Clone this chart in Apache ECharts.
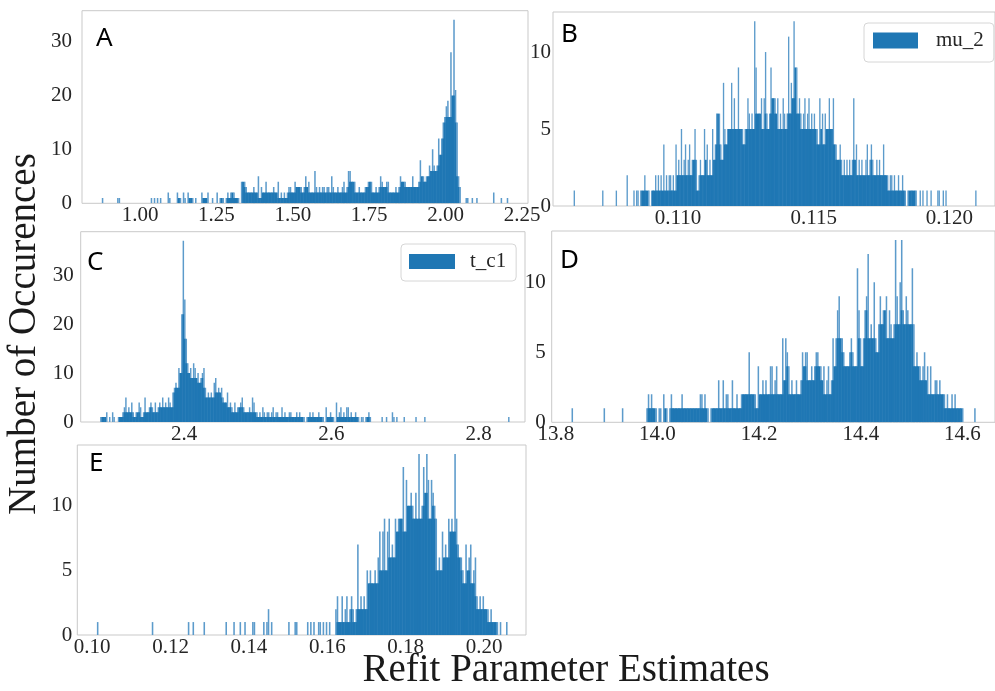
<!DOCTYPE html>
<html><head><meta charset="utf-8">
<script src="https://cdn.jsdelivr.net/npm/echarts@6/dist/echarts.min.js"></script>
<style>html,body{margin:0;padding:0;background:#fff}#c{width:995px;height:691px}</style>
</head><body><div id="c"></div>
<script>
// ---------------- data (histogram counts) ----------------
// Panel A
const binStartA = 0.875, binWidthA = 0.005;
const countsA = [
1,0,0,0,0,0,0,0,0,0,
1,1,0,0,0,0,0,0,0,0,
0,0,0,0,0,0,0,0,0,0,
0,0,1,0,1,0,1,0,1,0,
0,0,0,2,1,0,0,0,0,2,
1,1,0,2,1,0,2,1,1,1,
0,1,0,0,0,2,1,1,1,2,
0,0,1,0,0,2,0,1,1,1,
0,1,2,1,2,2,2,1,1,1,
0,4,4,4,3,2,2,2,2,3,
2,2,5,1,3,2,2,4,2,2,
2,2,3,2,2,4,1,2,1,2,
1,2,3,3,2,2,4,3,3,3,
3,2,3,5,3,4,2,2,2,6,
3,2,3,2,3,3,2,3,3,2,
5,3,2,2,3,2,2,3,4,2,
3,6,6,4,4,4,2,2,3,2,
2,2,3,3,4,4,4,2,2,3,
2,3,5,4,3,3,4,4,2,2,
2,2,3,2,3,5,4,4,4,3,
3,3,3,5,3,3,3,4,8,5,
5,4,5,5,7,6,10,7,6,7,
12,9,12,15,16,18,19,16,28,20,
34,21,15,5,3,0,0,0,1,1,
0,0,1,0,0,1,0,0,0,0,
0,0,0,0,0,0,2,0,0,0,
0,1,0,0,0,1,0,0
];
// Panel B
const binStartB = 0.10600, binWidthB = 0.00005;
const countsB = [
0,0,0,1,0,0,0,0,0,0,
0,0,0,0,0,0,0,0,0,0,
0,0,0,0,1,0,0,0,0,0,
0,0,0,0,1,0,0,0,0,0,
0,0,2,0,0,0,0,1,0,1,
1,0,1,1,1,2,1,1,1,0,
1,1,1,2,1,2,1,2,1,4,
1,2,1,2,2,1,2,1,4,2,
3,2,5,2,3,4,2,3,4,2,
3,3,5,3,1,2,3,2,2,5,
3,4,2,3,2,5,3,4,6,6,
6,4,3,8,5,4,5,5,5,8,
5,7,5,5,9,5,5,5,4,5,
5,7,6,5,6,5,12,9,6,6,
6,7,5,7,10,6,5,6,9,7,
7,7,6,7,5,6,5,7,6,5,
6,11,6,8,7,12,9,9,6,7,
6,5,6,7,5,6,7,5,6,5,
6,5,5,4,7,5,6,4,6,5,
5,7,5,5,7,4,4,3,3,4,
3,2,3,2,3,2,3,2,3,7,
3,4,2,3,2,3,2,2,3,4,
2,3,4,3,2,2,3,2,3,2,
2,4,2,2,2,1,2,2,1,2,
1,1,2,1,1,2,1,1,0,1,
1,1,1,1,1,1,0,0,1,0,
1,0,0,1,0,0,1,0,0,0,
0,1,1,0,0,1,0,1,0,0,
0,0,0,0,0,0,0,0,0,0,
0,0,0,0,0,0,0,0,0,1,
0,0,0,0
];
// Panel C
const binStartC = 2.284, binWidthC = 0.002;
const countsC = [
0,1,1,1,1,2,0,1,0,2,
1,0,0,1,1,1,2,3,5,2,
3,2,4,2,1,2,2,4,3,1,
2,5,2,2,3,4,3,2,4,2,
3,4,3,5,3,4,3,5,4,3,
6,7,8,7,11,10,22,37,25,17,
12,10,11,9,12,11,9,10,8,9,
10,11,7,5,6,5,6,5,8,9,
6,7,6,7,5,4,4,6,3,4,
3,2,4,2,3,3,4,5,3,2,
2,2,3,2,5,4,2,2,1,2,
1,3,2,1,2,2,1,2,3,1,
2,2,1,1,3,1,2,1,1,2,
2,1,1,1,2,1,2,1,1,1,
0,1,1,2,1,2,1,1,1,2,
1,1,1,0,3,1,1,2,1,1,
0,4,1,2,3,1,2,1,3,3,
1,2,1,1,2,1,1,0,1,1,
0,1,1,2,1,0,0,0,0,0,
0,0,1,0,0,1,0,0,0,2,
1,0,1,0,0,0,0,1,0,0,
0,0,0,0,0,1,0,0,0,0,
0,1,0,0,0,0,0,0,0,0,
0,0,0,0,0,0,0,0,0,0,
0,0,0,0,0,0,0,0,0,0,
0,0,0,0,0,0,0,0,0,0,
0,0,0,0,0,0,0,0,0,0,
0,0,0,0,0,0,0,0,1,0
];
// Panel D
const binStartD = 13.831, binWidthD = 0.003;
const countsD = [
1,0,0,0,0,0,0,0,0,0,
0,0,0,0,0,0,0,0,0,0,
0,1,0,0,0,0,0,0,0,0,
0,0,0,1,0,0,0,0,0,0,
0,0,0,0,0,0,0,0,0,1,
2,1,2,1,1,1,0,1,1,0,
2,1,1,0,1,2,1,1,1,1,
1,1,2,1,1,1,1,1,1,1,
1,1,1,1,2,2,1,2,1,1,
0,1,1,1,1,1,3,1,1,3,
1,2,2,1,1,3,1,1,2,1,
1,2,2,2,2,2,5,2,2,2,
2,1,4,2,2,3,2,3,2,2,
4,4,2,3,4,2,2,2,6,3,
6,5,4,2,3,2,2,3,2,2,
3,5,4,5,5,3,3,4,3,4,
5,5,4,4,3,4,2,3,4,2,
3,6,4,6,8,9,6,6,5,4,
4,4,5,6,5,4,4,11,8,6,
4,6,8,9,12,6,7,6,10,6,
5,7,9,7,8,8,9,6,8,7,
6,7,13,9,7,10,13,8,7,9,
8,7,7,11,7,4,5,4,4,3,
4,5,3,4,2,4,2,2,3,3,
2,3,2,2,2,1,2,1,1,2,
1,2,1,1,1,1,1,0,0,0,
0,0,0,0,1,0
];
// Panel E
const binStartE = 0.1012, binWidthE = 0.0004;
const countsE = [
1,0,0,0,0,0,0,0,0,0,
0,0,0,0,0,0,0,0,0,0,
0,0,0,0,0,0,0,0,0,0,
0,0,0,0,0,1,0,0,0,0,
0,0,0,0,0,0,0,0,0,0,
0,0,0,0,0,0,0,0,1,0,
0,1,0,0,0,0,0,0,1,0,
0,0,0,0,0,0,0,0,0,0,
0,0,1,0,0,0,0,1,0,0,
0,1,0,0,1,0,0,0,0,1,
1,0,0,0,0,0,1,0,1,2,
0,1,0,0,0,0,0,0,0,0,
0,0,1,0,0,0,1,1,0,0,
0,0,0,0,1,0,1,0,1,0,
0,1,1,0,1,0,1,0,1,0,
0,0,2,3,1,1,3,1,2,3,
1,2,3,2,1,2,7,2,3,2,
3,2,5,4,5,4,4,5,4,6,
8,5,8,9,5,8,9,6,7,6,
9,8,9,9,9,13,8,12,10,10,
11,10,9,11,9,14,9,10,13,11,
14,12,9,12,11,10,9,5,6,5,
8,6,7,6,9,8,9,8,14,9,
7,6,6,5,4,7,5,6,7,4,
5,6,3,2,3,2,3,2,2,2,
1,2,1,1,1,1,0,1,0,0,
0,1
];
// tick labels
const xTicksA = [1.00, 1.25, 1.50, 1.75, 2.00, 2.25];
const xTicksB = [0.110, 0.115, 0.120];
const xTicksC = [2.4, 2.6, 2.8];
const xTicksD = [13.8, 14.0, 14.2, 14.4, 14.6];
const xTicksE = [0.10, 0.12, 0.14, 0.16, 0.18, 0.20];
const yTicksA = [0, 10, 20, 30];
const yTicksB = [0, 5, 10];
const yTicksC = [0, 10, 20, 30];
const yTicksD = [0, 5, 10];
const yTicksE = [0, 5, 10];
const legendNames = ['mu_2', 't_c1'];
const panelLetters = ['A', 'B', 'C', 'D', 'E'];

// ---------------- chart ----------------
// each bar: [left edge, right edge, count, left-neighbour count, right-neighbour count]
function toBars(start, width, counts) {
  const out = [];
  counts.forEach((c, i) => {
    if (c > 0) out.push([start + i * width, start + (i + 1) * width, c, counts[i - 1] || 0, counts[i + 1] || 0]);
  });
  return out;
}
const BLUE = '#1f77b4';
const LIGHT = '#5c9bcb';
const SERIF = '"Liberation Serif", "Times New Roman", serif';
const panels = [
  {grid:{left:82, top:10.7, width:446, height:192.6}, x:[0.8102, 2.2696], y:35.7, xt:xTicksA, yt:yTicksA, dec:2, ym:10, bars:toBars(binStartA, binWidthA, countsA), name:'A'},
  {grid:{left:553, top:12, width:449.3, height:194}, x:[0.10539, 0.12168], y:12.6, xt:xTicksB, yt:yTicksB, dec:3, ym:2, bars:toBars(binStartB, binWidthB, countsB), name:legendNames[0]},
  {grid:{left:80.7, top:231.7, width:444.3, height:190.3}, x:[2.2596, 2.863], y:38.85, xt:xTicksC, yt:yTicksC, dec:1, ym:7, bars:toBars(binStartC, binWidthC, countsC), name:legendNames[1]},
  {grid:{left:551.7, top:231, width:449.7, height:191.3}, x:[13.792, 14.664], y:13.65, xt:xTicksD, yt:yTicksD, dec:1, ym:6, bars:toBars(binStartD, binWidthD, countsD), name:'D'},
  {grid:{left:77.3, top:445, width:448.7, height:190}, x:[0.0962, 0.2107], y:14.7, xt:xTicksE, yt:yTicksE, dec:2, ym:5, bars:toBars(binStartE, binWidthE, countsE), name:'E'}
];
const labelStyle = {fontFamily: SERIF, fontSize: 21, color: '#262626'};
const option = {
  animation: false,
  backgroundColor: '#fff',
  grid: panels.map(p => Object.assign({show:true, borderColor:'#c9c9c9', borderWidth:1, containLabel:false}, p.grid)),
  xAxis: panels.map((p, i) => ({
    type:'value', gridIndex:i, min:p.x[0], max:p.x[1],
    axisLine:{show:false}, axisTick:{show:false}, splitLine:{show:false},
    axisLabel:Object.assign({customValues:p.xt, margin:2, formatter:v => Number(v).toFixed(p.dec)}, labelStyle)
  })),
  yAxis: panels.map((p, i) => ({
    type:'value', gridIndex:i, min:0, max:p.y,
    axisLine:{show:false}, axisTick:{show:false}, splitLine:{show:false},
    axisLabel:Object.assign({customValues:p.yt, margin:p.ym, formatter:v => String(v)}, labelStyle)
  })),
  legend: [
    {data:[legendNames[0]], left:864, top:23, padding:[7,10,11,9], itemWidth:45, itemHeight:16, icon:'rect',
     borderColor:'#d6d6d6', borderWidth:1, borderRadius:4, backgroundColor:'#fff', selectedMode:false,
     textStyle:Object.assign({padding:[0,0,0,13]}, labelStyle)},
    {data:[legendNames[1]], left:401, top:244, padding:[7,10,9,8], itemWidth:46, itemHeight:15, icon:'rect',
     borderColor:'#d6d6d6', borderWidth:1, borderRadius:4, backgroundColor:'#fff', selectedMode:false,
     textStyle:Object.assign({padding:[0,0,0,10]}, labelStyle)}
  ],
  series: panels.map((p, i) => ({
    type:'custom', name:p.name, xAxisIndex:i, yAxisIndex:i, silent:true, clip:true,
    itemStyle:{color:BLUE},
    encode:{x:[0,1], y:2},
    data:p.bars,
    renderItem:(params, api) => {
      const h = api.value(2);
      const shared = Math.min(h, api.value(3), api.value(4));
      const a = api.coord([api.value(0), 0]);
      const b = api.coord([api.value(1), h]);
      const m = api.coord([api.value(1), shared]);
      const w = b[0] - a[0];
      const children = [];
      if (h > shared) children.push({type:'rect', shape:{x:a[0], y:b[1], width:w, height:a[1] - b[1]}, style:{fill:LIGHT}});
      if (shared > 0) children.push({type:'rect', shape:{x:a[0] - 0.3, y:m[1], width:w + 0.6, height:a[1] - m[1]}, style:{fill:BLUE}});
      return {type:'group', children};
    }
  })),
  graphic: [
    {type:'text', x:96, y:39, style:{text:panelLetters[0], font:'26px "Noto Sans", sans-serif', fill:'#000', textVerticalAlign:'middle', verticalAlign:'middle'}},
    {type:'text', x:561, y:35, style:{text:panelLetters[1], font:'26px "Noto Sans", sans-serif', fill:'#000', textVerticalAlign:'middle', verticalAlign:'middle'}},
    {type:'text', x:87, y:263, style:{text:panelLetters[2], font:'26px "Noto Sans", sans-serif', fill:'#000', textVerticalAlign:'middle', verticalAlign:'middle'}},
    {type:'text', x:560, y:261, style:{text:panelLetters[3], font:'26px "Noto Sans", sans-serif', fill:'#000', textVerticalAlign:'middle', verticalAlign:'middle'}},
    {type:'text', x:89, y:464, style:{text:panelLetters[4], font:'26px "Noto Sans", sans-serif', fill:'#000', textVerticalAlign:'middle', verticalAlign:'middle'}},
    {type:'text', x:566, y:671, style:{text:'Refit Parameter Estimates', font:'39px ' + SERIF, fill:'#1a1a1a', textAlign:'center', align:'center', textVerticalAlign:'middle', verticalAlign:'middle'}},
    {type:'text', x:25, y:334, rotation:Math.PI/2, style:{text:'Number of Occurences', font:'39px ' + SERIF, fill:'#1a1a1a', textAlign:'center', align:'center', textVerticalAlign:'middle', verticalAlign:'middle'}}
  ]
};
const chart = echarts.init(document.getElementById('c'), null, {renderer:'canvas'});
chart.setOption(option);
</script>
</body></html>
